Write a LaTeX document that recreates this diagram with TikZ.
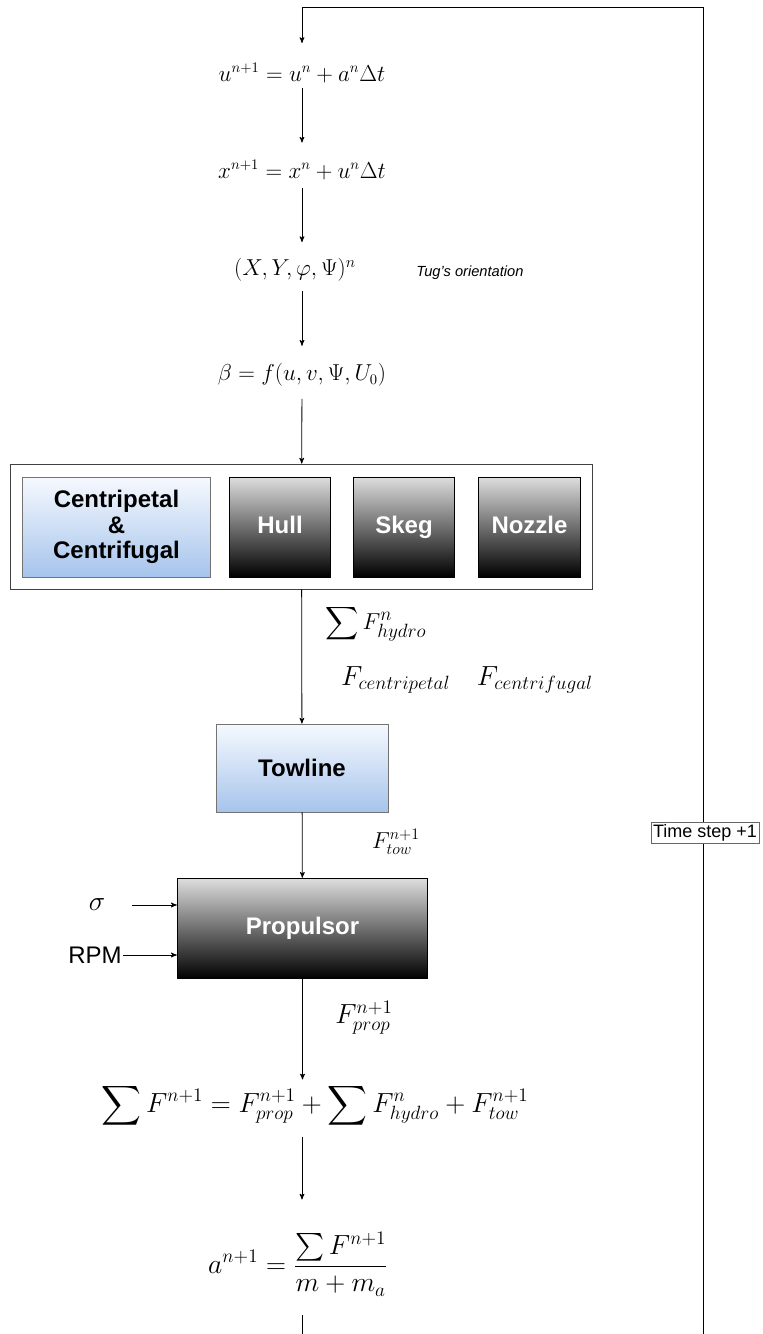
\documentclass[tikz,border=0pt]{standalone}
\usepackage{amsmath}
\usepackage[no-math]{fontspec}
\setmainfont{Liberation Serif}
\setsansfont{Liberation Sans}
\usetikzlibrary{positioning, arrows}
\definecolor{lightblue}{RGB}{166,196,236}
\definecolor{paleblue}{RGB}{246,249,254}
\tikzset{
>=stealth', % arrow heads
every path/.style={line width=0.6pt},
eq/.style={font=\fontsize{16}{19}\selectfont, inner sep=4pt}, % the equations on the main line
lbl/.style={font=\fontsize{17.5}{20}\selectfont, inner sep=0pt}, % the force labels beside the line
into/.style={shorten >=#1}, % leaves a gap before the next equation
bluebox/.style={draw=black!55, top color=paleblue, bottom color=lightblue, align=center,
  font=\sffamily\bfseries\fontsize{18}{19}\selectfont}, % light blocks
darkbox/.style={draw=black, top color=black!13, bottom color=black, text=white,
  text height=13pt, text depth=4pt,
  font=\sffamily\bfseries\fontsize{18}{19}\selectfont}, % dark blocks
}

\begin{document}
\begin{tikzpicture}[x=0.75pt, y=-0.75pt]
  \useasboundingbox (0,0) rectangle (763,1334);

  % main line of the time loop
  \node[eq] (u) at (302,73) {$u^{n+1} = u^{n} + a^{n}\Delta t$};
  \node[eq] (x) at (302,170) {$x^{n+1} = x^{n} + u^{n}\Delta t$};
  \node[eq, font=\fontsize{17}{19}\selectfont] (pos) at (295,270) {$(X, Y, \varphi, \Psi)^{n}$};
  \node[font=\sffamily\itshape\fontsize{11}{13}\selectfont] (tug) at (470,273) {Tug's orientation};
  \node[eq] (beta) at (302,375) {$\beta = f(u, v, \Psi, U_{0})$};

  % hydrodynamic forces
  \node[draw=black!75, minimum width=436.5pt, minimum height=93.75pt] (hydro) at (301.5,526.5) {};
  \node[bluebox, minimum width=141pt, minimum height=75pt] (cent) at (116.5,527) {Centripetal\\\&\\Centrifugal};
  \node[darkbox, minimum width=76pt, minimum height=75pt] (hull) at (280,527) {Hull};
  \node[darkbox, minimum width=76pt, minimum height=75pt] (skeg) at (404,527) {Skeg};
  \node[darkbox, minimum width=76pt, minimum height=75pt] (nozzle) at (529.5,527) {Nozzle};

  \node[bluebox, minimum width=129pt, minimum height=66pt] (tow) at (302,768) {Towline};
  \node[darkbox, minimum width=188pt, minimum height=75.5pt] (prop) at (302.5,928.5) {Propulsor};

  \node[eq, font=\fontsize{21}{24}\selectfont, inner sep=2pt] (sumF) at (315,1106)
    {$\displaystyle\sum F^{n+1} = F^{n+1}_{prop} + \sum F^{n}_{hydro} + F^{n+1}_{tow}$};
  \node[eq, font=\fontsize{21}{24}\selectfont, inner sep=2pt] (acc) at (298,1264) {$a^{n+1} = \dfrac{\sum F^{n+1}}{m + m_{a}}$};

  % labels beside the line
  \node[lbl, font=\fontsize{19}{22}\selectfont] (lhydro) at (376,624) {$\displaystyle\sum F^{n}_{hydro}$};
  \node[lbl, font=\fontsize{20}{22}\selectfont] (lcent) at (467,680) {$F_{centripetal}\quad F_{centrifugal}$};
  \node[lbl] (ltow) at (396,842) {$F^{n+1}_{tow}$};
  \node[lbl, font=\fontsize{19.5}{22}\selectfont] (lprop) at (364,1018) {$F^{n+1}_{prop}$};

  % propulsor inputs
  \node[font=\fontsize{20}{22}\selectfont, inner sep=0pt] (sig) at (97,905) {$\sigma$};
  \node[font=\sffamily\fontsize{18}{20}\selectfont, inner sep=0pt] (rpm) at (95,955) {RPM};

  \coordinate (c1) at (703,7);
  \coordinate (c2) at (302,7);
  \coordinate (back) at (703,1334);
  \coordinate (stub) at (302,1334);

  \draw[->, into=9pt] (u) -- (x);
  \draw[->, into=8pt, shorten <=2pt] (x) -- (pos.north -| x.south);
  \draw[->, into=9pt, shorten <=3pt] (pos.south -| beta.north) -- (beta);
  \draw[->, shorten <=5pt] (beta) -- (hydro);
  \draw[->] (hydro) -- (tow);
  \draw[->] (tow) -- (prop);
  \draw[->, into=1pt] (prop) -- (sumF.north -| prop.south);
  \draw[->, into=22pt, shorten <=4pt] (sumF.south -| stub) -- (stub |- acc.north);
  \draw[shorten <=12pt] (stub |- acc.south) -- (stub);
  \draw[->, shorten <=20pt] (sig) -- (sig -| prop.west);
  \draw[->, shorten <=1pt] (rpm) -- (rpm -| prop.west);

  % back to the top for the next step
  \draw[->, into=11pt] (back) -- (c1) -- (c2) -- (u);
  \node[draw=black!60, fill=white, font=\sffamily\fontsize{13.5}{15}\selectfont, inner sep=1.5pt] (step1) at (705,833) {Time step +1};

\end{tikzpicture}
\end{document}
